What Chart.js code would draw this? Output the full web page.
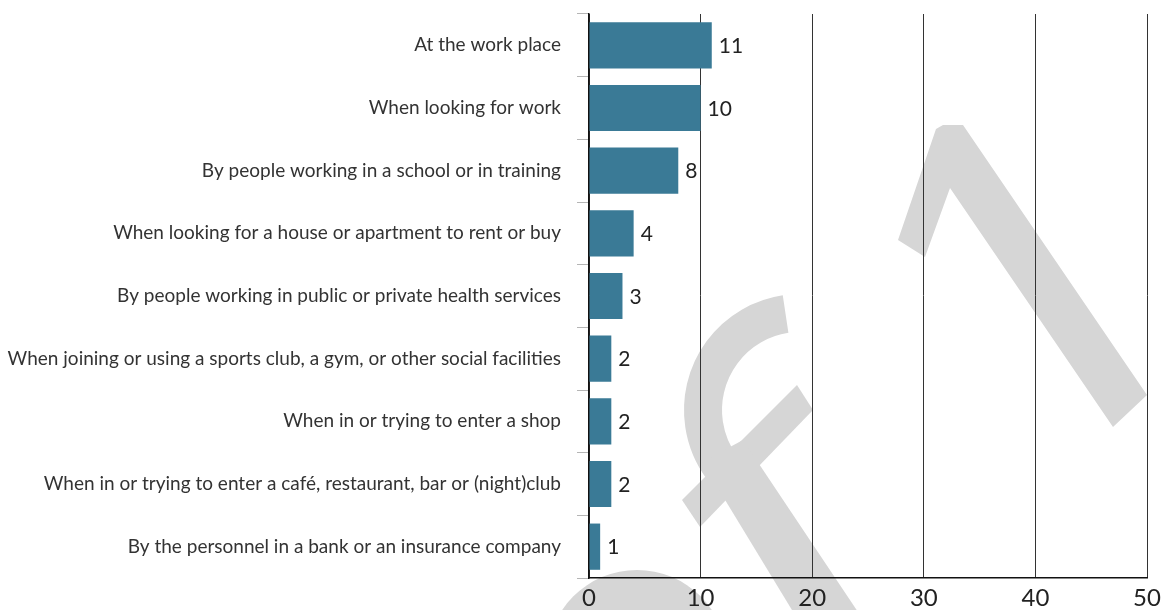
<!DOCTYPE html>
<html lang="en">
<head>
  <meta charset="UTF-8">
  <title>Discrimination by area</title>
  <script src="https://cdn.jsdelivr.net/npm/chart.js"></script>
  <style>
    body, html {
      margin: 0;
      background: #fff;
    }
    .chart-box {
      width: 1163px;
      height: 610px;
      position: relative;
    }
  </style>
</head>
<body>
  <div class="chart-box">
    <canvas id="barChart"></canvas>
  </div>

  <script>
    const categories = [
      'At the work place',
      'When looking for work',
      'By people working in a school or in training',
      'When looking for a house or apartment to rent or buy',
      'By people working in public or private health services',
      'When joining or using a sports club, a gym, or other social facilities',
      'When in or trying to enter a shop',
      'When in or trying to enter a café, restaurant, bar or (night)club',
      'By the personnel in a bank or an insurance company'
    ];
    const values = [11, 10, 8, 4, 3, 2, 2, 2, 1];
    const xTicks = [0, 10, 20, 30, 40, 50];

    // grey "draft" stamp behind the chart
    const watermark = {
      id: 'watermark',
      beforeDraw(chart) {
        const ctx = chart.ctx;
        ctx.save();
        ctx.fillStyle = '#d6d6d6';
        ctx.strokeStyle = '#d6d6d6';

        // the "1"
        ctx.beginPath();
        ctx.moveTo(898, 240);
        ctx.lineTo(936, 129);
        ctx.lineTo(943, 125);
        ctx.lineTo(963, 125);
        ctx.lineTo(1147, 395);
        ctx.lineTo(1113, 427);
        ctx.lineTo(950, 188);
        ctx.lineTo(925, 257);
        ctx.closePath();
        ctx.fill();

        // the "f" bow
        ctx.beginPath();
        ctx.lineWidth = 38;
        ctx.arc(800, 410, 97, -1.72, 2.5, true);
        ctx.stroke();

        // the "f" cross bar
        ctx.beginPath();
        ctx.moveTo(797, 385);
        ctx.lineTo(813, 410);
        ctx.lineTo(700, 527);
        ctx.lineTo(682, 500);
        ctx.closePath();
        ctx.fill();

        // the "f" stem
        ctx.beginPath();
        ctx.moveTo(702, 462);
        ctx.lineTo(743, 440);
        ctx.lineTo(860, 615);
        ctx.lineTo(795, 615);
        ctx.closePath();
        ctx.fill();

        // arch at the bottom
        ctx.beginPath();
        ctx.arc(637, 660, 90, 0, Math.PI * 2);
        ctx.fill();
        ctx.restore();
      }
    };

    const valueLabels = {
      id: 'valueLabels',
      afterDatasetsDraw(chart) {
        const ctx = chart.ctx;
        const meta = chart.getDatasetMeta(0);
        ctx.save();
        ctx.font = '21px Lato, "Open Sans", sans-serif';
        ctx.fillStyle = '#222';
        ctx.textAlign = 'left';
        ctx.textBaseline = 'middle';
        meta.data.forEach((bar, i) => {
          ctx.fillText(String(values[i]), bar.x + 7, bar.y + 1);
        });
        ctx.restore();
      }
    };

    new Chart(document.getElementById('barChart'), {
      type: 'bar',
      data: {
        labels: categories,
        datasets: [{
          data: values,
          backgroundColor: '#3a7a96',
          borderWidth: 0,
          categoryPercentage: 0.82,
          barPercentage: 0.9
        }]
      },
      options: {
        indexAxis: 'y',
        responsive: true,
        maintainAspectRatio: false,
        animation: false,
        layout: {
          padding: { top: 14, right: 16, left: 0, bottom: 0 }
        },
        plugins: {
          legend: { display: false },
          tooltip: { enabled: false }
        },
        scales: {
          x: {
            min: 0,
            max: 50,
            afterBuildTicks(scale) {
              scale.ticks = xTicks.map(v => ({ value: v }));
            },
            afterFit(scale) {
              scale.height = 32;
              scale.paddingLeft = 0;
              scale.paddingRight = 0;
            },
            grid: {
              color: '#333',
              lineWidth: 1,
              drawTicks: false
            },
            border: { color: '#111', width: 1.5 },
            ticks: {
              padding: 6,
              color: '#222',
              font: { family: 'Lato, "Open Sans", sans-serif', size: 24 }
            }
          },
          y: {
            afterFit(scale) {
              scale.width = 589;
              scale.paddingTop = 0;
              scale.paddingBottom = 0;
            },
            grid: {
              offset: true,
              drawOnChartArea: false,
              tickLength: 12,
              color: '#b5b5b5'
            },
            border: { color: '#111', width: 1.5 },
            ticks: {
              padding: 16,
              color: '#333',
              font: { family: 'Lato, "Open Sans", sans-serif', size: 19 }
            }
          }
        }
      },
      plugins: [watermark, valueLabels]
    });
  </script>
</body>
</html>
